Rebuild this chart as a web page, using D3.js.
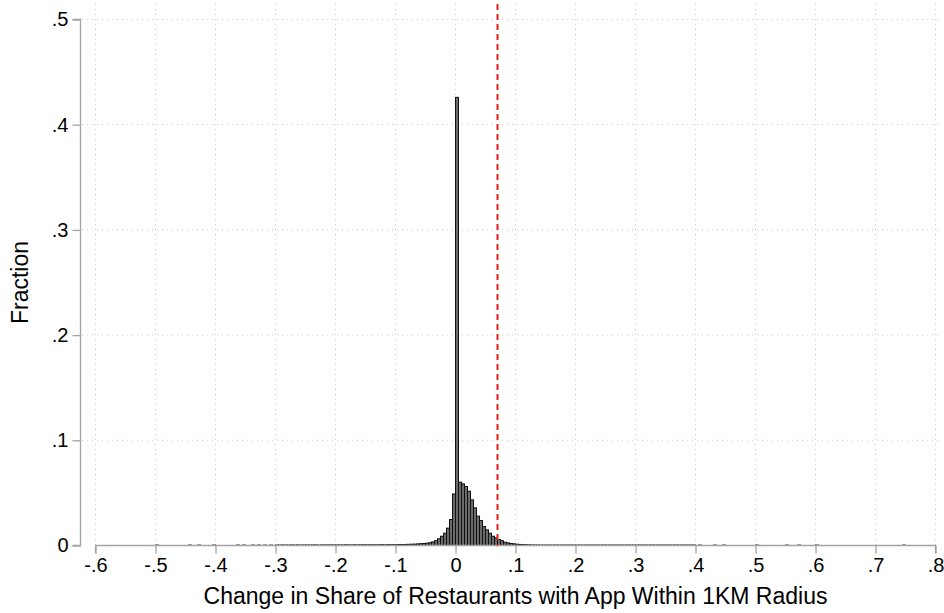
<!DOCTYPE html>
<html>
<head>
<meta charset="utf-8">
<script src="https://cdn.jsdelivr.net/npm/d3@7"></script>
<style>
  html, body { margin: 0; padding: 0; background: #fff; }
  svg { display: block; font-family: "Liberation Sans", Arial, Helvetica, sans-serif; }
</style>
</head>
<body>
<svg id="chart" width="944" height="613"></svg>
<script>
// Histogram of the change in share of restaurants with the app (bin width 0.005)
const binWidth = 0.005;

// left edge of each non-empty bin
const binStart = [
  -0.500, -0.445, -0.430, -0.405, -0.365, -0.355, -0.340, -0.330, -0.320, -0.310,
  -0.300, -0.295, -0.290, -0.285, -0.280, -0.275, -0.270, -0.265, -0.260, -0.255,
  -0.250, -0.245, -0.240, -0.235, -0.230, -0.225, -0.220, -0.215, -0.210, -0.205,
  -0.200, -0.195, -0.190, -0.185, -0.180, -0.175, -0.170, -0.165, -0.160, -0.155,
  -0.150, -0.145, -0.140, -0.135, -0.130, -0.125, -0.120, -0.115, -0.110, -0.105,
  -0.100, -0.095, -0.090, -0.085, -0.080, -0.075, -0.070, -0.065, -0.060, -0.055,
  -0.050, -0.045, -0.040, -0.035, -0.030, -0.025, -0.020, -0.015, -0.010, -0.005,
   0.000,  0.005,  0.010,  0.015,  0.020,  0.025,  0.030,  0.035,  0.040,  0.045,
   0.050,  0.055,  0.060,  0.065,  0.070,  0.075,  0.080,  0.085,  0.090,  0.095,
   0.100,  0.105,  0.110,  0.115,  0.120,  0.125,  0.130,  0.135,  0.140,  0.145,
   0.150,  0.155,  0.160,  0.165,  0.170,  0.175,  0.180,  0.185,  0.190,  0.195,
   0.200,  0.205,  0.210,  0.215,  0.220,  0.225,  0.230,  0.235,  0.240,  0.245,
   0.250,  0.255,  0.260,  0.265,  0.270,  0.275,  0.280,  0.285,  0.290,  0.295,
   0.300,  0.305,  0.310,  0.315,  0.320,  0.325,  0.330,  0.335,  0.340,  0.345,
   0.350,  0.355,  0.360,  0.365,  0.370,  0.375,  0.380,  0.385,  0.390,  0.395,
   0.405,  0.430,  0.445,  0.500,  0.550,  0.570,  0.600,  0.745
];

// fraction of observations in each bin
const fraction = [
  0.0004, 0.0004, 0.0004, 0.0004, 0.0004, 0.0004, 0.0004, 0.0004, 0.0004, 0.0004,
  0.0004, 0.0004, 0.0005, 0.0004, 0.0004, 0.0005, 0.0004, 0.0005, 0.0004, 0.0005,
  0.0005, 0.0004, 0.0005, 0.0005, 0.0004, 0.0005, 0.0005, 0.0005, 0.0005, 0.0005,
  0.0005, 0.0005, 0.0005, 0.0006, 0.0005, 0.0005, 0.0006, 0.0005, 0.0006, 0.0006,
  0.0006, 0.0006, 0.0006, 0.0006, 0.0006, 0.0007, 0.0006, 0.0007, 0.0007, 0.0007,
  0.0008, 0.0008, 0.0009, 0.0010, 0.0011, 0.0012, 0.0013, 0.0015, 0.0017, 0.0019,
  0.0022, 0.0026, 0.0034, 0.0046, 0.0064, 0.0088, 0.0117, 0.0165, 0.0247, 0.0490,
  0.4260, 0.0602, 0.0586, 0.0561, 0.0516, 0.0434, 0.0358, 0.0279, 0.0238, 0.0180,
  0.0149, 0.0117, 0.0088, 0.0073, 0.0057, 0.0045, 0.0031, 0.0025, 0.0019, 0.0016,
  0.0012, 0.0010, 0.0008, 0.0007, 0.0006, 0.0005, 0.0005, 0.0004, 0.0004, 0.0004,
  0.0004, 0.0004, 0.0004, 0.0004, 0.0004, 0.0004, 0.0004, 0.0004, 0.0004, 0.0004,
  0.0004, 0.0004, 0.0004, 0.0004, 0.0004, 0.0004, 0.0004, 0.0004, 0.0004, 0.0004,
  0.0004, 0.0004, 0.0004, 0.0004, 0.0004, 0.0004, 0.0004, 0.0004, 0.0004, 0.0004,
  0.0004, 0.0004, 0.0004, 0.0004, 0.0004, 0.0004, 0.0004, 0.0004, 0.0004, 0.0004,
  0.0004, 0.0004, 0.0004, 0.0004, 0.0004, 0.0004, 0.0004, 0.0004, 0.0004, 0.0004,
  0.0004, 0.0004, 0.0004, 0.0004, 0.0004, 0.0004, 0.0004, 0.0004
];

// reference line (dashed red)
const refValue = 0.07;

const xTicks = [-0.6, -0.5, -0.4, -0.3, -0.2, -0.1, 0, 0.1, 0.2, 0.3, 0.4, 0.5, 0.6, 0.7, 0.8];
const xTickLabels = ["-.6", "-.5", "-.4", "-.3", "-.2", "-.1", "0", ".1", ".2", ".3", ".4", ".5", ".6", ".7", ".8"];
const yTicks = [0, 0.1, 0.2, 0.3, 0.4, 0.5];
const yTickLabels = ["0", ".1", ".2", ".3", ".4", ".5"];

const xTitle = "Change in Share of Restaurants with App Within 1KM Radius";
const yTitle = "Fraction";

const svg = d3.select("#chart");

const x = d3.scaleLinear().domain([-0.6, 0.8]).range([95.5, 935.5]);
const y = d3.scaleLinear().domain([0, 0.5]).range([545.5, 19.5]);

const plotTop = 4, plotLeft = 82, plotRight = 941;
const axisColor = "#a3a3a3";
const gridColor = "#c9c9c9";

// dotted grid
const grid = svg.append("g");
grid.selectAll("line.h").data(yTicks.filter(d => d > 0)).join("line")
  .attr("x1", plotLeft).attr("x2", plotRight)
  .attr("y1", d => y(d)).attr("y2", d => y(d))
  .attr("stroke", gridColor).attr("stroke-width", 1)
  .attr("stroke-dasharray", "1,4");
grid.selectAll("line.v").data(xTicks).join("line")
  .attr("x1", d => x(d)).attr("x2", d => x(d))
  .attr("y1", plotTop).attr("y2", y(0))
  .attr("stroke", gridColor).attr("stroke-width", 1)
  .attr("stroke-dasharray", "1,4");

// bars
const bins = binStart.map((s, i) => ({ s, f: fraction[i] }));
svg.append("g").selectAll("rect").data(bins).join("rect")
  .attr("x", d => x(d.s))
  .attr("width", d => x(d.s + binWidth) - x(d.s))
  .attr("y", d => y(d.f))
  .attr("height", d => y(0) - y(d.f))
  .attr("fill", "#6b6b6b")
  .attr("stroke", "#111")
  .attr("stroke-width", 1);

// y axis
const yAxis = svg.append("g").attr("transform", "translate(80.5,0)")
  .call(d3.axisLeft(y).tickValues(yTicks).tickFormat((d, i) => yTickLabels[i]).tickSize(8).tickPadding(4));
// x axis
const xAxis = svg.append("g").attr("transform", `translate(0,${y(0)})`)
  .call(d3.axisBottom(x).tickValues(xTicks).tickFormat((d, i) => xTickLabels[i]).tickSize(8).tickPadding(4));

[yAxis, xAxis].forEach(g => {
  g.select(".domain").attr("stroke", axisColor).attr("stroke-width", 1.3);
  g.selectAll(".tick line").attr("stroke", axisColor).attr("stroke-width", 1.3);
  g.selectAll(".tick text").attr("fill", "#000").style("font-size", "20px")
    .style("font-family", '"Liberation Sans", Arial, sans-serif');
});
yAxis.select(".domain").attr("d", `M-8,${y(0.5)}H0V${y(0)}H-8`);
xAxis.select(".domain").attr("d", `M${x(-0.6)},8V0H${x(0.8)}V8`);

// reference line
svg.append("line")
  .attr("x1", x(refValue)).attr("x2", x(refValue))
  .attr("y1", plotTop).attr("y2", y(0))
  .attr("stroke", "#ee1c1c").attr("stroke-width", 2)
  .attr("stroke-dasharray", "6,4");

// titles
svg.append("text")
  .attr("transform", `translate(28,${(y(0) + y(0.5)) / 2}) rotate(-90)`)
  .attr("text-anchor", "middle")
  .style("font-size", "23px")
  .text(yTitle);
svg.append("text")
  .attr("x", (x(-0.6) + x(0.8)) / 2).attr("y", 604)
  .attr("text-anchor", "middle")
  .style("font-size", "23px")
  .text(xTitle);
</script>
</body>
</html>
